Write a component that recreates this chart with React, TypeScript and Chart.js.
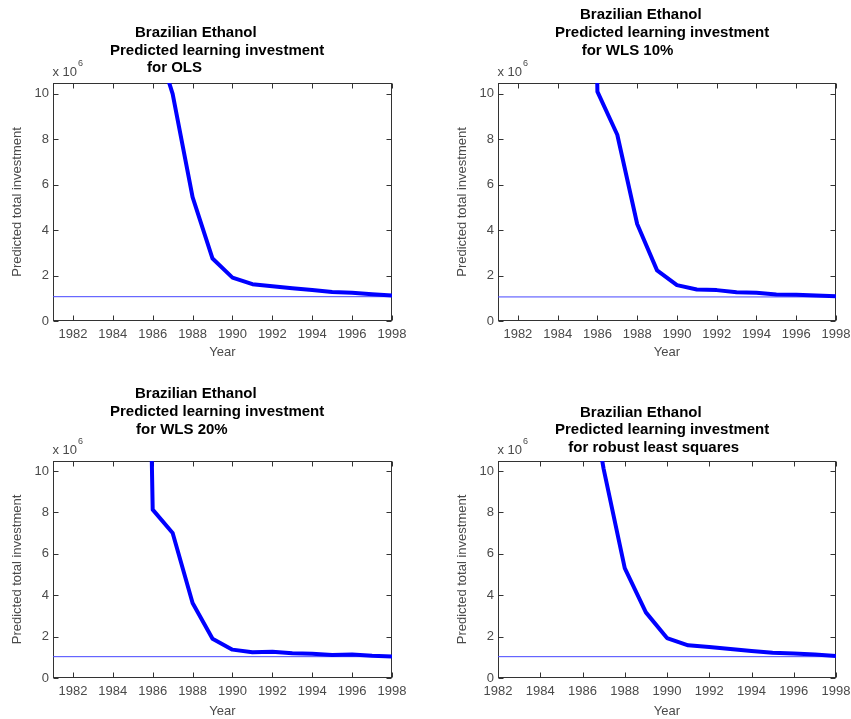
import React, { useEffect, useRef } from "react";
import { Chart, registerables } from "chart.js";

Chart.register(...registerables);

// Shared axes (investment in units of 10^6)
const X_TICKS = [1982, 1984, 1986, 1988, 1990, 1992, 1994, 1996, 1998];
const Y_TICKS = [0, 2, 4, 6, 8, 10];
const X_MAX = 1998;
const Y_MAX = 10.48;

const TITLE_LINES = ["Brazilian Ethanol", "Predicted learning investment"];

// OLS
const OLS_YEARS = [1986, 1987, 1988, 1989, 1990, 1991, 1992, 1993, 1994, 1995, 1996, 1997, 1998];
const OLS_INVEST = [12.8, 10.0, 5.45, 2.75, 1.91, 1.62, 1.53, 1.44, 1.36, 1.28, 1.24, 1.18, 1.12];
const OLS_LEVEL = 1.07;

// WLS 10%
const WLS10_YEARS = [1985, 1986, 1987, 1988, 1989, 1990, 1991, 1992, 1993, 1994, 1995, 1996, 1997, 1998];
const WLS10_INVEST = [60, 10.1, 8.2, 4.27, 2.23, 1.58, 1.39, 1.36, 1.27, 1.24, 1.17, 1.16, 1.12, 1.09];
const WLS10_LEVEL = 1.06;

// WLS 20%
const WLS20_YEARS = [1985, 1986, 1987, 1988, 1989, 1990, 1991, 1992, 1993, 1994, 1995, 1996, 1997, 1998];
const WLS20_INVEST = [60, 8.13, 7.0, 3.62, 1.9, 1.37, 1.24, 1.27, 1.19, 1.17, 1.11, 1.13, 1.07, 1.04];
const WLS20_LEVEL = 1.03;

// Robust least squares
const ROBUST_YEARS = [1986, 1987, 1988, 1989, 1990, 1991, 1992, 1993, 1994, 1995, 1996, 1997, 1998];
const ROBUST_INVEST = [16, 10.1, 5.31, 3.17, 1.93, 1.58, 1.5, 1.4, 1.3, 1.22, 1.18, 1.13, 1.06];
const ROBUST_LEVEL = 1.03;

const FONT = "'Liberation Sans', Arial, Helvetica, sans-serif";
const TEXT_COLOR = "#4a4a4a";
const AXIS_COLOR = "#333333";
const TICK_LEN = 5;
const CANVAS_W = 425;

type Panel = {
  years: number[];
  values: number[];
  level: number;
  subtitle: string;
  xMin: number;
  left: number;
  top: number;
  height: number;
  area: { left: number; right: number; top: number; bottom: number };
  titleX: number[];
  titleBaseline: number;
};

const PANELS: Panel[] = [
  {
    years: OLS_YEARS, values: OLS_INVEST, level: OLS_LEVEL, subtitle: "for OLS", xMin: 1981,
    left: 0, top: 0, height: 360,
    area: { left: 53, right: 392, top: 83, bottom: 321 },
    titleX: [135, 110, 147], titleBaseline: 37,
  },
  {
    years: WLS10_YEARS, values: WLS10_INVEST, level: WLS10_LEVEL, subtitle: "for WLS 10%", xMin: 1981,
    left: 445, top: 0, height: 360,
    area: { left: 53, right: 391, top: 83, bottom: 321 },
    titleX: [135, 110, 136.7], titleBaseline: 19.3,
  },
  {
    years: WLS20_YEARS, values: WLS20_INVEST, level: WLS20_LEVEL, subtitle: "for WLS 20%", xMin: 1981,
    left: 0, top: 360, height: 359,
    area: { left: 53, right: 392, top: 101, bottom: 318 },
    titleX: [135, 110, 136], titleBaseline: 38.3,
  },
  {
    years: ROBUST_YEARS, values: ROBUST_INVEST, level: ROBUST_LEVEL, subtitle: "for robust least squares", xMin: 1982,
    left: 445, top: 360, height: 359,
    area: { left: 53, right: 391, top: 101, bottom: 318 },
    titleX: [135, 110, 123.3], titleBaseline: 56.7,
  },
];

// Boxed axes with inward ticks, stacked title and the exponent label
const matlabFrame = {
  id: "matlabFrame",
  beforeDatasetsDraw(chart: any) {
    const { ctx, chartArea: a, scales } = chart;
    const l = a.left + 0.5;
    const r = a.right - 0.5;
    const t = a.top + 0.5;
    const b = a.bottom - 0.5;
    ctx.save();
    ctx.strokeStyle = AXIS_COLOR;
    ctx.lineWidth = 1;
    ctx.strokeRect(l, t, r - l, b - t);
    ctx.beginPath();
    for (const v of X_TICKS) {
      const x = Math.round(scales.x.getPixelForValue(v)) + 0.5;
      ctx.moveTo(x, b);
      ctx.lineTo(x, b - TICK_LEN);
      ctx.moveTo(x, t);
      ctx.lineTo(x, t + TICK_LEN);
    }
    for (const v of Y_TICKS) {
      const y = Math.round(scales.y.getPixelForValue(v)) + 0.5;
      ctx.moveTo(l, y);
      ctx.lineTo(l + TICK_LEN, y);
      ctx.moveTo(r, y);
      ctx.lineTo(r - TICK_LEN, y);
    }
    ctx.stroke();
    ctx.restore();
  },
  afterDraw(chart: any, _args: any, opts: any) {
    const { ctx, chartArea: a } = chart;
    ctx.save();
    ctx.fillStyle = "#000";
    ctx.font = `bold 15px ${FONT}`;
    ctx.textAlign = "left";
    ctx.textBaseline = "alphabetic";
    opts.lines.forEach((line: string, i: number) => {
      ctx.fillText(line, opts.titleX[i], opts.titleBaseline + i * 17.6);
    });
    // x 10^6 exponent above the y axis
    ctx.fillStyle = TEXT_COLOR;
    ctx.font = `13px ${FONT}`;
    const base = a.top - 7.5;
    const txt = "x 10";
    ctx.fillText(txt, a.left - 0.5, base);
    const w = ctx.measureText(txt).width;
    ctx.font = `9px ${FONT}`;
    ctx.fillText("6", a.left - 0.5 + w + 1, base - 10);
    ctx.restore();
  },
};

function PanelChart({ panel }: { panel: Panel }) {
  const ref = useRef<HTMLCanvasElement | null>(null);

  useEffect(() => {
    if (!ref.current) return;
    const p = panel;
    const tickFont = { family: FONT, size: 13 };
    const chart = new Chart(ref.current, {
      type: "line",
      data: {
        datasets: [
          {
            data: p.years.map((x, i) => ({ x, y: p.values[i] })),
            borderColor: "#0000ff",
            borderWidth: 4,
            pointRadius: 0,
            tension: 0,
            clip: 0,
            borderJoinStyle: "round",
            borderCapStyle: "butt",
          } as any,
          {
            data: [
              { x: p.xMin, y: p.level },
              { x: X_MAX, y: p.level },
            ],
            borderColor: "#4646ff",
            borderWidth: 1,
            pointRadius: 0,
            clip: 0,
          } as any,
        ],
      },
      options: {
        animation: false,
        responsive: false,
        maintainAspectRatio: false,
        devicePixelRatio: 1,
        events: [],
        layout: {
          padding: { left: 0, top: p.area.top, right: CANVAS_W - p.area.right, bottom: 0 },
        },
        plugins: {
          legend: { display: false },
          tooltip: { enabled: false },
          title: { display: false },
          matlabFrame: {
            lines: [...TITLE_LINES, p.subtitle],
            titleX: p.titleX,
            titleBaseline: p.titleBaseline,
          },
        } as any,
        scales: {
          x: {
            type: "linear",
            min: p.xMin,
            max: X_MAX,
            afterBuildTicks: (s: any) => {
              s.ticks = X_TICKS.map((value) => ({ value }));
            },
            afterFit: (s: any) => {
              s.height = p.height - p.area.bottom;
            },
            grid: { display: false, drawTicks: false },
            border: { display: false },
            ticks: {
              padding: 6,
              color: TEXT_COLOR,
              font: tickFont,
              maxRotation: 0,
              autoSkip: false,
              callback: (v: any) => String(v),
            },
            title: { display: true, text: "Year", color: TEXT_COLOR, font: tickFont, padding: 0 },
          },
          y: {
            type: "linear",
            min: 0,
            max: Y_MAX,
            afterBuildTicks: (s: any) => {
              s.ticks = Y_TICKS.map((value) => ({ value }));
            },
            afterFit: (s: any) => {
              s.width = p.area.left;
            },
            grid: { display: false, drawTicks: false },
            border: { display: false },
            ticks: {
              padding: 4,
              color: TEXT_COLOR,
              font: tickFont,
              callback: (v: any) => String(v),
            },
            title: {
              display: true,
              text: "Predicted total investment",
              color: TEXT_COLOR,
              font: tickFont,
              padding: { top: 10, bottom: 0 },
            },
          },
        } as any,
      },
      plugins: [matlabFrame],
    });
    return () => chart.destroy();
  }, [panel]);

  return (
    <canvas
      ref={ref}
      width={CANVAS_W}
      height={panel.height}
      style={{
        position: "absolute",
        left: panel.left,
        top: panel.top,
        width: CANVAS_W,
        height: panel.height,
      }}
    />
  );
}

export default function App() {
  return (
    <div
      style={{
        position: "absolute",
        left: 0,
        top: 0,
        width: 851,
        height: 719,
        overflow: "hidden",
        background: "#fff",
      }}
    >
      {PANELS.map((p, i) => (
        <PanelChart key={i} panel={p} />
      ))}
    </div>
  );
}
